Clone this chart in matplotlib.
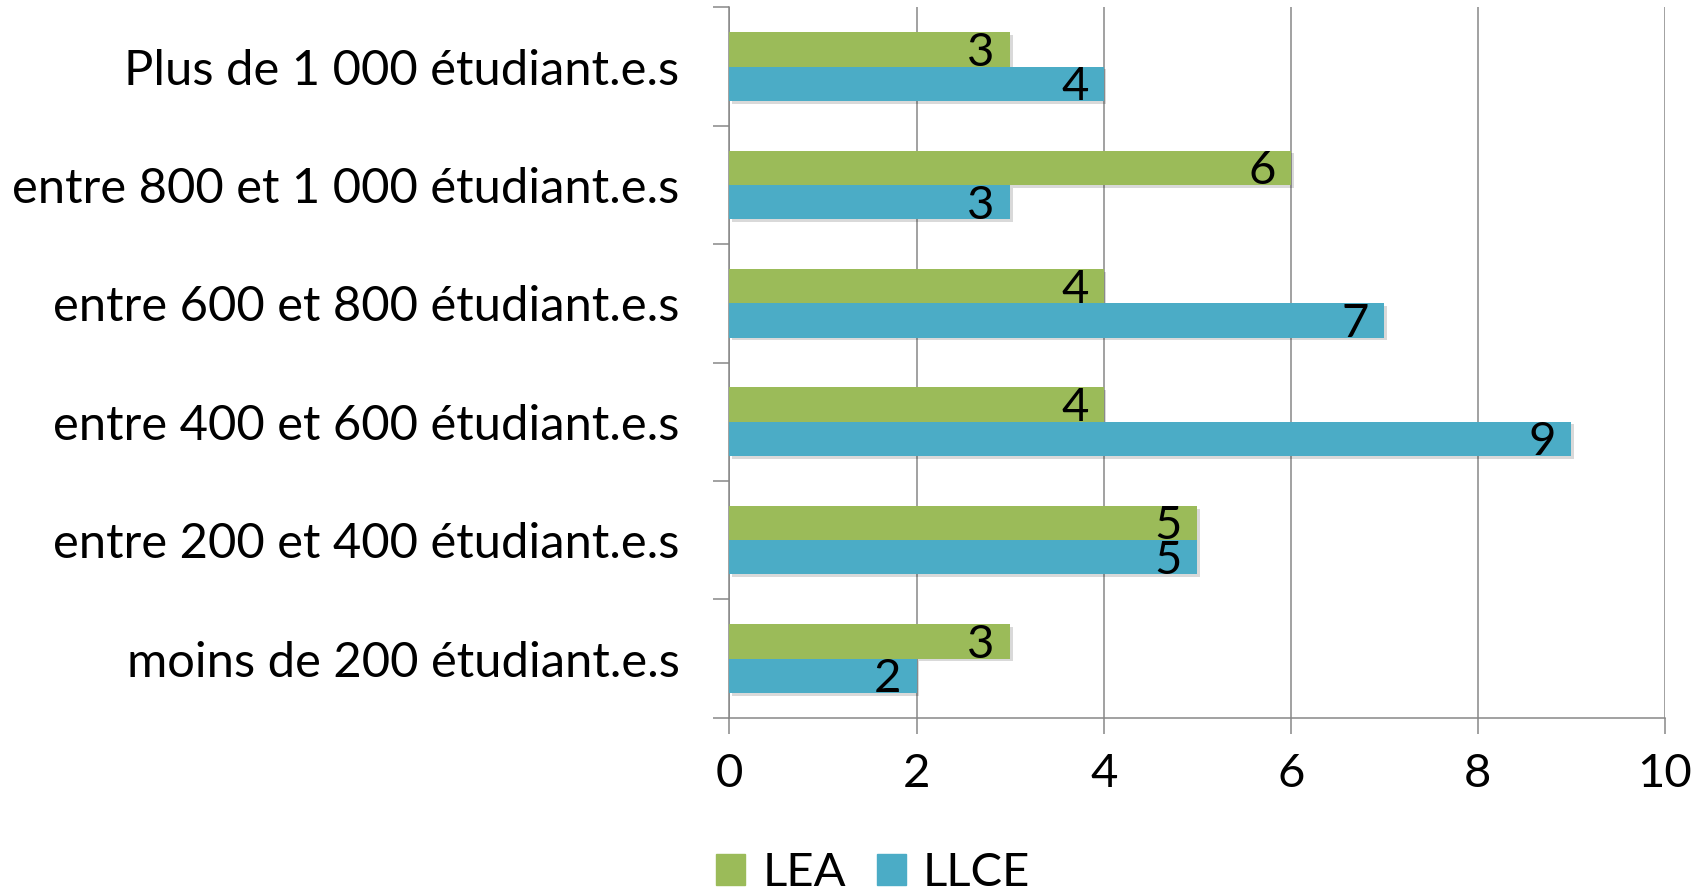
import matplotlib
matplotlib.use('Agg')
import matplotlib.pyplot as plt
import matplotlib.patheffects as pe
from matplotlib.patches import Patch
import numpy as np

categories = ['moins de 200 étudiant.e.s', 'entre 200 et 400 étudiant.e.s',
              'entre 400 et 600 étudiant.e.s', 'entre 600 et 800 étudiant.e.s',
              'entre 800 et 1 000 étudiant.e.s', 'Plus de 1 000 étudiant.e.s']
lea = [3, 5, 4, 4, 6, 3]
llce = [2, 5, 9, 7, 3, 4]
xticks = [0, 2, 4, 6, 8, 10]

GREEN = '#9BBB59'
BLUE = '#4BACC6'
GRID = '#878787'
FS = 34

plt.rcParams['font.family'] = ['Lato', 'DejaVu Sans']

fig = plt.figure(figsize=(17.07, 8.94), dpi=100)
ax = fig.add_axes([0.4273, 0.1972, 0.9754 - 0.4273, 0.9918 - 0.1972])

y = np.arange(len(categories)) + 0.5
h = 0.29
shadow = [pe.SimplePatchShadow(offset=(2, -2), shadow_rgbFace='black', alpha=0.15), pe.Normal()]

b1 = ax.barh(y + h / 2, lea, height=h, color=GREEN, zorder=3)
b2 = ax.barh(y - h / 2, llce, height=h, color=BLUE, zorder=3)
for bars in (b1, b2):
    for b in bars:
        b.set_path_effects(shadow)

# valeurs a l'interieur du bout de chaque barre
for bars, vals in ((b1, lea), (b2, llce)):
    for b, v in zip(bars, vals):
        ax.annotate(str(v), (v, b.get_y() + b.get_height() / 2),
                    xytext=(-11, -2.5), textcoords='offset points',
                    ha='right', va='center', fontsize=FS, color='black', zorder=5)

ax.set_xlim(0, 10)
ax.set_ylim(0, len(categories))
ax.set_xticks(xticks)
ax.set_xticklabels([str(t) for t in xticks])
ax.set_yticks(y)
ax.set_yticklabels(categories)
ax.set_yticks(np.arange(len(categories) + 1), minor=True)

ax.tick_params(axis='y', which='major', length=0, pad=36, labelsize=35.2)
ax.tick_params(axis='y', which='minor', length=11.5, width=1.1, color=GRID)
ax.tick_params(axis='x', length=11.5, width=1.1, color=GRID, pad=14, labelsize=FS)

ax.grid(axis='x', color=GRID, linewidth=1.1, zorder=0)
ax.set_axisbelow(True)
for s in ('top', 'right'):
    ax.spines[s].set_visible(False)
for s in ('left', 'bottom'):
    ax.spines[s].set_color(GRID)
    ax.spines[s].set_linewidth(1.1)

handles = [Patch(color=GREEN, label='LEA'), Patch(color=BLUE, label='LLCE')]
fig.legend(handles=handles, loc='center left', bbox_to_anchor=(716 / 1707, 1 - 873 / 894),
           ncol=2, frameon=False, fontsize=FS, handlelength=0.62, handleheight=0.62,
           handletextpad=0.36, columnspacing=0.65, borderpad=0, borderaxespad=0)

fig.savefig('out.png', dpi=100)
